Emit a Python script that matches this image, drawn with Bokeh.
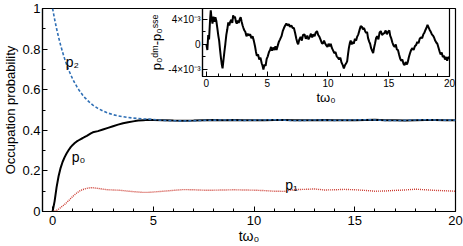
from bokeh.plotting import figure
from bokeh.models import Range1d, FixedTicker, Label
from bokeh.embed import file_html
from bokeh.resources import INLINE

FONT = "Liberation Sans"

# ---- main panel data ----
t = [0.0, 0.1, 0.2, 0.3, 0.4, 0.5, 0.6, 0.7, 0.8, 0.9, 1.0, 1.1, 1.2, 1.3, 1.4,
     1.5, 1.6, 1.7, 1.8, 1.9, 2.0, 2.25, 2.5, 2.75, 3.0, 3.25, 3.5, 3.75, 4.0,
     4.25, 4.5, 4.75, 5.0, 5.5, 6.0, 6.5, 7.0, 7.5, 8.0, 8.5, 9.0, 9.5, 10.0,
     10.5, 11.0, 11.5, 12.0, 12.5, 13.0, 13.5, 14.0, 14.5, 15.0, 15.5, 16.0,
     16.5, 17.0, 17.5, 18.0, 18.5, 19.0, 19.5, 20.0]

p2 = [1.0, 0.948, 0.900, 0.858, 0.819, 0.784, 0.752, 0.723, 0.697, 0.674, 0.652,
      0.633, 0.616, 0.600, 0.586, 0.573, 0.561, 0.551, 0.541, 0.532, 0.524,
      0.508, 0.495, 0.485, 0.477, 0.471, 0.467, 0.463, 0.460, 0.458, 0.456,
      0.455, 0.453, 0.449, 0.447, 0.446, 0.447, 0.449, 0.450, 0.451, 0.450,
      0.449, 0.450, 0.451, 0.452, 0.450, 0.448, 0.449, 0.451, 0.450, 0.449,
      0.450, 0.451, 0.452, 0.451, 0.449, 0.448, 0.449, 0.451, 0.452, 0.451,
      0.450, 0.450]

p0 = [0.0, 0.05, 0.12, 0.175, 0.215, 0.245, 0.268, 0.287, 0.303, 0.317, 0.328,
      0.337, 0.345, 0.351, 0.357, 0.362, 0.368, 0.373, 0.379, 0.385, 0.390,
      0.396, 0.404, 0.412, 0.420, 0.428, 0.435, 0.440, 0.444, 0.448, 0.450,
      0.452, 0.451, 0.450, 0.448, 0.447, 0.448, 0.450, 0.451, 0.450, 0.451,
      0.450, 0.449, 0.450, 0.451, 0.451, 0.449, 0.450, 0.450, 0.451, 0.450,
      0.449, 0.450, 0.451, 0.452, 0.450, 0.449, 0.448, 0.450, 0.451, 0.451,
      0.450, 0.449]

p1 = [0.0, 0.002, 0.006, 0.012, 0.019, 0.027, 0.035, 0.044, 0.054, 0.064, 0.074,
      0.083, 0.091, 0.098, 0.104, 0.108, 0.111, 0.114, 0.116, 0.117, 0.117,
      0.114, 0.110, 0.107, 0.106, 0.105, 0.103, 0.100, 0.098, 0.096, 0.094,
      0.094, 0.096, 0.100, 0.104, 0.108, 0.107, 0.105, 0.105, 0.106, 0.107,
      0.106, 0.105, 0.103, 0.100, 0.099, 0.108, 0.109, 0.111, 0.106, 0.107,
      0.109, 0.107, 0.104, 0.100, 0.101, 0.104, 0.106, 0.110, 0.107, 0.104,
      0.102, 0.100]

x_ticks = [0, 5, 10, 15, 20]
x_minor = [1, 2, 3, 4, 6, 7, 8, 9, 11, 12, 13, 14, 16, 17, 18, 19]
y_ticks = [0, 0.2, 0.4, 0.6, 0.8, 1]
y_minor = [0.1, 0.3, 0.5, 0.7, 0.9]
y_tick_labels = ["0", "0.2", "0.4", "0.6", "0.8", "1"]

# ---- inset data: p0(dm) - p0(sse), in units of 1e-3 ----
inset_t = [
    0.00, 0.08, 0.15, 0.22, 0.30, 0.36, 0.42, 0.50, 0.58, 0.66, 0.74, 0.82, 0.90,
    0.98, 1.05, 1.12, 1.20, 1.27, 1.33, 1.40, 1.48, 1.56, 1.64, 1.72, 1.80, 1.88,
    1.96, 2.05, 2.13, 2.20, 2.27, 2.35, 2.43, 2.50, 2.58, 2.66, 2.74, 2.82, 2.90,
    2.98, 3.05, 3.13, 3.20, 3.30, 3.40, 3.50, 3.60, 3.70, 3.80, 3.90, 4.00, 4.08,
    4.15, 4.25, 4.35, 4.45, 4.55, 4.62, 4.69, 4.78, 4.87, 4.96, 5.05, 5.15, 5.24,
    5.32, 5.40, 5.50, 5.60, 5.68, 5.77, 5.87, 5.96, 6.06, 6.18, 6.28, 6.38, 6.48,
    6.58, 6.68, 6.78, 6.88, 6.99, 7.10, 7.20, 7.30, 7.40, 7.48, 7.55, 7.65, 7.75,
    7.85, 7.95, 8.07, 8.18, 8.30, 8.40, 8.50, 8.60, 8.70, 8.80, 8.90, 9.00, 9.10,
    9.20, 9.30, 9.40, 9.50, 9.58, 9.68, 9.78, 9.88, 9.96, 10.05, 10.15, 10.23,
    10.33, 10.43, 10.52, 10.62, 10.72, 10.82, 10.92, 11.02, 11.12, 11.22, 11.31,
    11.40, 11.50, 11.58, 11.65, 11.72, 11.80, 11.87, 11.95, 12.05, 12.12, 12.22,
    12.32, 12.40, 12.50, 12.60, 12.70, 12.79, 12.88, 12.97, 13.06, 13.15, 13.22,
    13.30, 13.40, 13.47, 13.55, 13.63, 13.72, 13.80, 13.88, 13.96, 14.05, 14.15,
    14.25, 14.35, 14.45, 14.55, 14.65, 14.75, 14.85, 14.95, 15.05, 15.12, 15.20,
    15.30, 15.40, 15.49, 15.58, 15.67, 15.76, 15.85, 15.95, 16.03, 16.12, 16.22,
    16.30, 16.40, 16.50, 16.57, 16.66, 16.75, 16.84, 16.95, 17.05, 17.15, 17.25,
    17.35, 17.45, 17.55, 17.65, 17.75, 17.85, 17.92, 18.00, 18.10, 18.19, 18.28,
    18.37, 18.46, 18.55, 18.64, 18.73, 18.82, 18.91, 19.00, 19.09, 19.18, 19.27,
    19.36, 19.45, 19.54, 19.63, 19.72, 19.81, 19.90, 20.00]
inset_dp_milli = [
    0.0, -0.9, 1.5, 0.8, 3.8, 5.4, 4.2, 3.3, 4.4, 3.6, 4.3, 3.7, 2.6,
    1.4, 0.6, -0.8, -2.2, -3.2, -3.8, -2.6, -1.2, 0.1, 1.5, 2.4, 3.5, 3.0,
    3.6, 3.9, 3.4, 4.6, 4.2, 4.4, 3.6, 3.3, 3.8, 3.4, 4.0, 4.3, 3.6,
    3.0, 2.6, 2.2, 2.0, 1.3, 1.7, 1.4, 1.6, 1.0, 1.3, 0.6, -0.3, -1.2,
    -1.8, -1.6, -2.4, -2.1, -3.0, -3.4, -4.0, -3.2, -3.4, -2.3, -1.9, -1.2, -0.9,
    -0.4, -1.0, -0.5, -0.9, -0.3, -0.9, -0.2, 0.4, 0.8, 1.3, 2.1, 2.6, 3.0,
    3.3, 3.0, 3.2, 2.8, 3.0, 2.6, 2.6, 1.8, 0.9, 0.3, 0.0, 0.8, 1.2,
    0.6, 1.5, 1.6, 0.9, 1.4, 0.8, 1.2, 1.7, 1.1, 1.6, 1.3, 1.9, 2.1,
    1.5, 1.2, 0.7, 0.2, 0.1, 0.6, 0.1, -0.2, -0.4, 0.1, -0.3, 0.1,
    -0.6, -1.0, -1.4, -1.2, -1.9, -2.1, -2.4, -2.1, -2.9, -3.3, -3.8,
    -3.3, -3.0, -2.7, -1.6, -0.6, 0.2, 0.6, 0.0, 0.4, 0.1, 0.9,
    0.6, 1.2, 1.6, 2.3, 2.9, 2.8, 2.4, 2.6, 2.1, 1.8, 2.0,
    1.0, 0.4, 0.1, -0.6, -1.0, -1.4, -0.5, 0.2, 1.0, 1.3, 0.8,
    1.9, 2.1, 1.5, 1.7, 1.8, 2.2, 1.6, 2.0, 2.2, 1.4, 1.0,
    0.3, -0.2, -0.4, 0.0, -0.8, -0.9, -1.6, -2.3, -2.6, -2.4, -3.1,
    -3.3, -2.8, -3.2, -2.8, -2.0, -1.4, -0.9, -0.6, -0.9, -0.3, -0.1,
    0.4, 0.2, 0.9, 1.1, 1.0, 1.6, 1.8, 2.2, 2.6, 3.1, 2.7,
    2.3, 2.0, 1.6, 1.4, 1.1, 0.6, 0.3, 0.1, -0.5, -1.1, -1.6,
    -1.3, -2.0, -1.8, -2.4, -2.0, -2.6, -2.0, -2.2]
inset_dp = [v * 1e-3 for v in inset_dp_milli]

inset_y_ticks = [-4e-3, 0.0, 4e-3]
inset_y_minor = [-2e-3, 2e-3]
inset_y_tick_labels = ["-4\u00d710\u207b\u00b3", "0", "4\u00d710\u207b\u00b3"]

BLUE = "#2f6fb5"
RED = "#cc3a30"


def style_axes(fig, tick_size, label_size):
    for ax in (fig.xaxis[0], fig.yaxis[0]):
        ax.axis_line_color = "black"
        ax.axis_line_width = 1.2
        ax.major_tick_in = 5
        ax.major_tick_out = 0
        ax.minor_tick_in = 3
        ax.minor_tick_out = 0
        ax.major_tick_line_color = "black"
        ax.minor_tick_line_color = "black"
        ax.major_label_text_font = FONT
        ax.major_label_text_font_size = tick_size
        ax.major_label_text_color = "black"
        ax.axis_label_text_font = FONT
        ax.axis_label_text_font_size = label_size
        ax.axis_label_text_font_style = "normal"
        ax.axis_label_text_color = "black"
    fig.xgrid.visible = False
    fig.ygrid.visible = False
    fig.outline_line_color = "black"
    fig.outline_line_width = 1.2
    fig.outline_line_alpha = 1.0


# ---- main figure ----
p = figure(width=463, height=246, x_range=Range1d(-0.5, 20), y_range=Range1d(0, 1),
           output_backend="svg", toolbar_location=None,
           min_border_left=38, min_border_right=8, min_border_top=8, min_border_bottom=34)
style_axes(p, "13px", "14px")
p.xaxis[0].ticker = FixedTicker(ticks=x_ticks, minor_ticks=x_minor)
p.yaxis[0].ticker = FixedTicker(ticks=y_ticks, minor_ticks=y_minor)
p.yaxis[0].major_label_overrides = {v: s for v, s in zip(y_ticks, y_tick_labels)}
p.xaxis[0].axis_label = "t\u03c9\u2080"
p.yaxis[0].axis_label = "Occupation probability"
p.yaxis[0].axis_label_text_font_size = "13px"
p.yaxis[0].axis_label_standoff = 1
p.yaxis[0].major_label_standoff = 2
p.xaxis[0].axis_label_standoff = 0
p.xaxis[0].major_label_standoff = 4

p.line(t, p0, line_color="black", line_width=2)
p.line(t, p1, line_color=RED, line_width=1.4, line_dash="1 1")
p.line(t, p2, line_color=BLUE, line_width=1.6, line_dash="3 2")

for txt, x, y in (("p\u2082", 0.65, 0.735), ("p\u2080", 0.95, 0.27), ("p\u2081", 11.55, 0.13)):
    p.add_layout(Label(x=x, y=y, text=txt, text_font=FONT, text_font_size="14px",
                       text_baseline="middle", text_color="black"))

# ---- inset figure (separate root, placed over the main one) ----
ins = figure(width=311, height=107, x_range=Range1d(-0.32, 20),
             y_range=Range1d(-5.1e-3, 5.7e-3),
             output_backend="svg", toolbar_location=None,
             min_border_left=52, min_border_right=8, min_border_top=8, min_border_bottom=28,
             border_fill_color=None, background_fill_color=None)
style_axes(ins, "10px", "13px")
ins.xaxis[0].ticker = FixedTicker(ticks=x_ticks, minor_ticks=x_minor)
ins.yaxis[0].ticker = FixedTicker(ticks=inset_y_ticks, minor_ticks=inset_y_minor)
ins.yaxis[0].major_label_overrides = {v: s for v, s in zip(inset_y_ticks, inset_y_tick_labels)}
ins.xaxis[0].axis_label = "t\u03c9\u2080"
ins.yaxis[0].axis_label = "p\u2080\u1d48\u1d50-p\u2080\u02e2\u02e2\u1d49"
ins.yaxis[0].axis_label_standoff = 1
ins.yaxis[0].major_label_standoff = 2
ins.xaxis[0].axis_label_standoff = 0
ins.xaxis[0].major_label_standoff = 2
ins.line(inset_t, inset_dp, line_color="black", line_width=2)
ins.styles = {"position": "absolute", "left": "146px", "top": "0px"}

open("out.html", "w").write(file_html([p, ins], INLINE))
